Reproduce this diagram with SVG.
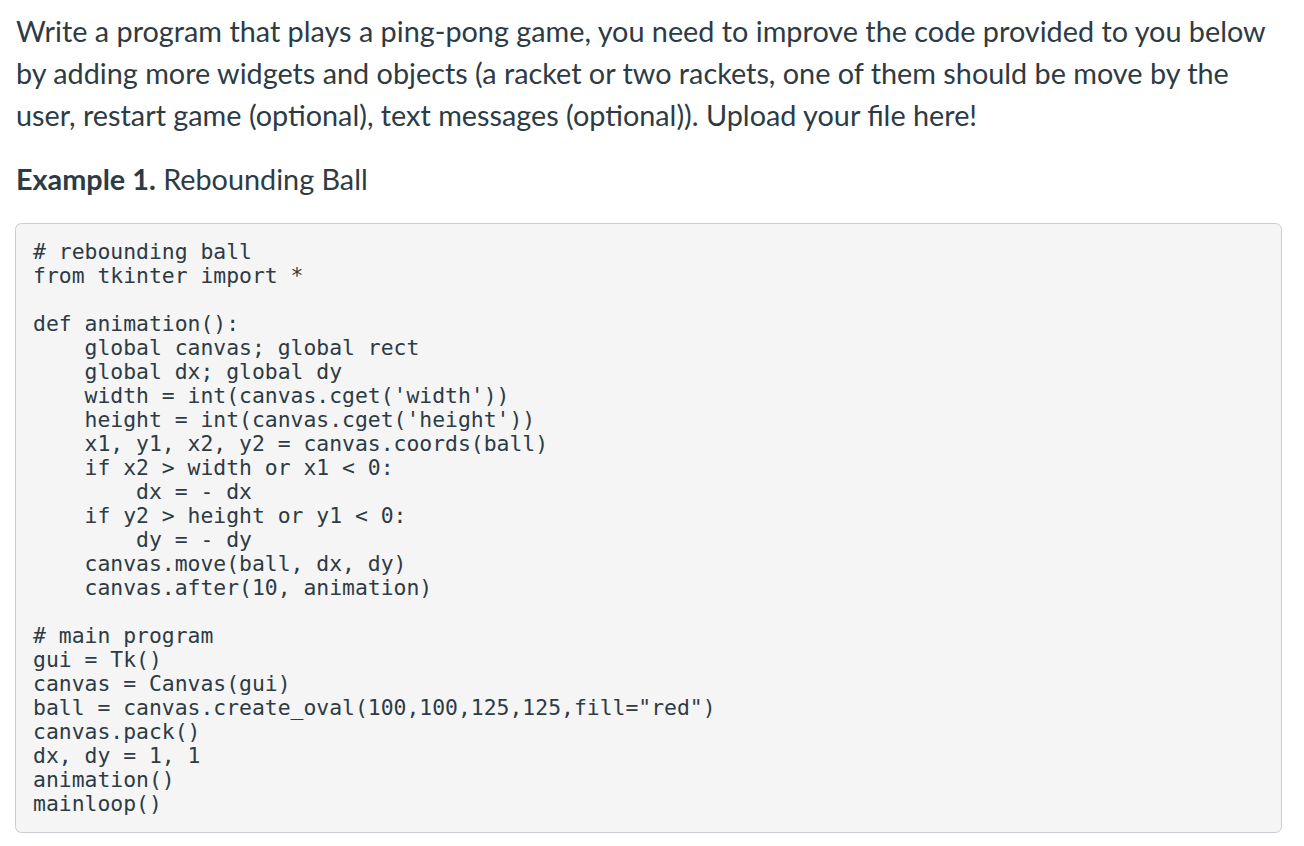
<svg xmlns="http://www.w3.org/2000/svg" width="1304" height="846" viewBox="0 0 1304 846">
<style>
.p{font-family:Lato,"Liberation Sans",sans-serif;font-size:28.8px;fill:#2d3b45}
.c{font-family:"DejaVu Sans Mono","Liberation Mono",monospace;font-size:21.4px;fill:#2d3b45;white-space:pre}
</style>
<rect width="1304" height="846" fill="#fff"/>
<g id="intro">
<text class="p" x="16" y="42">Write a program that plays a ping-pong game, you need to improve the code provided to you below</text>
<text class="p" x="16" y="84">by adding more widgets and objects (a racket or two rackets, one of them should be move by the</text>
<text class="p" x="16" y="126">user, restart game (optional), text messages (optional)). Upload your file here!</text>
<text class="p" x="16" y="190"><tspan font-weight="bold">Example 1.</tspan> Rebounding Ball</text>
</g>
<g id="code">
<rect x="15.5" y="223.5" width="1266" height="609" rx="6" fill="#f5f5f5" stroke="#c7cdd1"/>
<text class="c" x="33" xml:space="preserve"><tspan x="33" y="259"># rebounding ball</tspan><tspan x="33" y="283">from tkinter import *</tspan><tspan x="33" y="331">def animation():</tspan><tspan x="33" y="355">    global canvas; global rect</tspan><tspan x="33" y="379">    global dx; global dy</tspan><tspan x="33" y="403">    width = int(canvas.cget('width'))</tspan><tspan x="33" y="427">    height = int(canvas.cget('height'))</tspan><tspan x="33" y="451">    x1, y1, x2, y2 = canvas.coords(ball)</tspan><tspan x="33" y="475">    if x2 &gt; width or x1 &lt; 0:</tspan><tspan x="33" y="499">        dx = - dx</tspan><tspan x="33" y="523">    if y2 &gt; height or y1 &lt; 0:</tspan><tspan x="33" y="547">        dy = - dy</tspan><tspan x="33" y="571">    canvas.move(ball, dx, dy)</tspan><tspan x="33" y="595">    canvas.after(10, animation)</tspan><tspan x="33" y="643"># main program</tspan><tspan x="33" y="667">gui = Tk()</tspan><tspan x="33" y="691">canvas = Canvas(gui)</tspan><tspan x="33" y="715">ball = canvas.create_oval(100,100,125,125,fill="red")</tspan><tspan x="33" y="739">canvas.pack()</tspan><tspan x="33" y="763">dx, dy = 1, 1</tspan><tspan x="33" y="787">animation()</tspan><tspan x="33" y="811">mainloop()</tspan></text>
</g>
</svg>
